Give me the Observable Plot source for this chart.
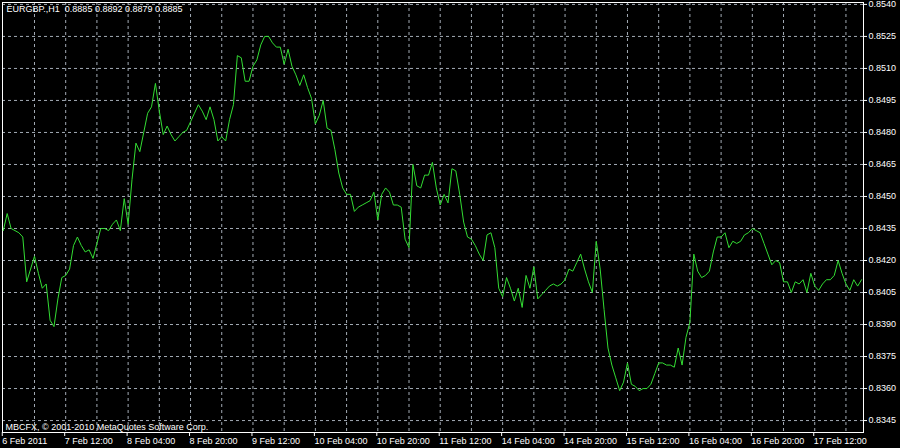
<!DOCTYPE html>
<html>
<head>
<meta charset="utf-8">
<script src="https://cdn.jsdelivr.net/npm/d3@7"></script>
<script src="https://cdn.jsdelivr.net/npm/@observablehq/plot@0.6"></script>
<style>
  html, body { margin: 0; padding: 0; background: #000; }
  #chart svg { display: block; }
</style>
</head>
<body>
<div id="chart"></div>
<script>
// Hourly closes of EURGBP (H1), one value per bar, bar index = position in the array
const closes = [
  0.8434, 0.8442, 0.8435, 0.8434, 0.8433, 0.8431, 0.8410, 0.8416, 0.8422, 0.8414,
  0.8407, 0.8409, 0.8392, 0.8389, 0.8402, 0.8412, 0.8413, 0.8416, 0.8427, 0.8431,
  0.8427, 0.8424, 0.8425, 0.8421, 0.8428, 0.8435, 0.8435, 0.8434, 0.8437, 0.8439,
  0.8434, 0.8449, 0.8437, 0.8458, 0.8475, 0.8471, 0.8480, 0.8489, 0.8492, 0.8503,
  0.8490, 0.8479, 0.8483, 0.8479, 0.8476, 0.8478, 0.8480, 0.8481, 0.8485, 0.8489,
  0.8493, 0.8490, 0.8486, 0.8492, 0.8486, 0.8476, 0.8478, 0.8476, 0.8486, 0.8493,
  0.8516, 0.8515, 0.8504, 0.8504, 0.8511, 0.8514, 0.8521, 0.8525, 0.8525, 0.8522,
  0.8520, 0.8520, 0.8512, 0.8519, 0.8511, 0.8507, 0.8502, 0.8507, 0.8501, 0.8496,
  0.8484, 0.8488, 0.8495, 0.8482, 0.8481, 0.8472, 0.8461, 0.8454, 0.8451, 0.8451,
  0.8443, 0.8445, 0.8446, 0.8447, 0.8448, 0.8452, 0.8439, 0.8451, 0.8454, 0.8452,
  0.8446, 0.8446, 0.8445, 0.8430, 0.8426, 0.8465, 0.8455, 0.8454, 0.8460, 0.8460,
  0.8466, 0.8454, 0.8446, 0.8451, 0.8447, 0.8463, 0.8462, 0.8451, 0.8438, 0.8431,
  0.8430, 0.8427, 0.8423, 0.8420, 0.8432, 0.8433, 0.8426, 0.8407, 0.8403, 0.8412,
  0.8407, 0.8401, 0.8407, 0.8398, 0.8413, 0.8407, 0.8417, 0.8402, 0.8404, 0.8406,
  0.8408, 0.8409, 0.8408, 0.8409, 0.8411, 0.8416, 0.8415, 0.8419, 0.8423, 0.8416,
  0.8410, 0.8405, 0.8429, 0.8416, 0.8397, 0.8379, 0.8371, 0.8365, 0.8359, 0.8363,
  0.8372, 0.8362, 0.8361, 0.8359, 0.8360, 0.8360, 0.8362, 0.8367, 0.8372, 0.8372,
  0.8371, 0.8371, 0.8370, 0.8379, 0.8371, 0.8384, 0.8391, 0.8423, 0.8415, 0.8412,
  0.8413, 0.8415, 0.8424, 0.8431, 0.8431, 0.8433, 0.8426, 0.8429, 0.8428, 0.8429,
  0.8432, 0.8433, 0.8435, 0.8434, 0.8433, 0.8428, 0.8423, 0.8418, 0.8420, 0.8419,
  0.8410, 0.8410, 0.8405, 0.8410, 0.8409, 0.8411, 0.8405, 0.8414, 0.8408, 0.8406,
  0.8409, 0.8411, 0.8411, 0.8413, 0.8420, 0.8414, 0.8409, 0.8406, 0.8411, 0.8408,
  0.8411
];

// Time-axis labels (every 16 bars) and the bars they sit on
const xTickBars = [0, 16, 32, 48, 64, 80, 96, 112, 128, 144, 160, 176, 192, 208];
const xTickLabels = [
  "6 Feb 2011", "7 Feb 12:00", "8 Feb 04:00", "8 Feb 20:00", "9 Feb 12:00",
  "10 Feb 04:00", "10 Feb 20:00", "11 Feb 12:00", "14 Feb 04:00", "14 Feb 20:00",
  "15 Feb 12:00", "16 Feb 04:00", "16 Feb 20:00", "17 Feb 12:00"
];
// vertical grid lines every 8 bars
const xGridBars = [8, 16, 24, 32, 40, 48, 56, 64, 72, 80, 88, 96, 104, 112, 120, 128,
  136, 144, 152, 160, 168, 176, 184, 192, 200, 208, 216];

// Price-axis ticks
const yTicks = [0.8345, 0.8360, 0.8375, 0.8390, 0.8405, 0.8420, 0.8435, 0.8450,
  0.8465, 0.8480, 0.8495, 0.8510, 0.8525, 0.8540];

const titleText = ["EURGBP.,H1\u00a0 0.8885 0.8892 0.8879 0.8885"];
const captionText = ["MBCFX, \u00a9 2001-2010 MetaQuotes Software Corp."];

const labelMap = new Map(xTickBars.map((b, i) => [b, xTickLabels[i]]));
const gridColor = "#a3abb5";

const chart = Plot.plot({
  width: 900,
  height: 448,
  marginLeft: 2,
  marginRight: 37,
  marginTop: 2,
  marginBottom: 16,
  style: {
    background: "#000",
    color: "#fff",
    fontFamily: "'Liberation Sans', Arial, sans-serif",
    fontSize: "9px"
  },
  x: { domain: [-0.2, 220.5] },
  y: { domain: [0.83394, 0.85409] },
  marks: [
    Plot.gridX(xGridBars, { stroke: gridColor, strokeOpacity: 1, strokeDasharray: "3,3" }),
    Plot.gridY(yTicks, { stroke: gridColor, strokeOpacity: 1, strokeDasharray: "3,3" }),
    Plot.frame({ stroke: "#fff" }),
    Plot.lineY(closes, { x: (d, i) => i, y: d => d, stroke: "#33dd33", strokeWidth: 1 }),
    Plot.axisY(yTicks, {
      anchor: "right", tickSize: 3, tickPadding: 2, stroke: "#fff", fill: "#fff",
      tickFormat: d => d.toFixed(4)
    }),
    Plot.axisX(xTickBars, {
      anchor: "bottom", tickSize: 4, tickPadding: 1, stroke: "#fff", fill: "#fff",
      textAnchor: "start", dx: -1,
      tickFormat: d => labelMap.get(d)
    }),
    Plot.text(titleText, {
      text: d => d, frameAnchor: "top-left", dx: 4, dy: 3,
      fill: "#fff", textAnchor: "start", lineAnchor: "top"
    }),
    Plot.text(captionText, {
      text: d => d, frameAnchor: "bottom-left", dx: 3, dy: -3,
      fill: "#fff", textAnchor: "start", lineAnchor: "bottom"
    })
  ]
});

document.getElementById("chart").appendChild(chart);
</script>
</body>
</html>
